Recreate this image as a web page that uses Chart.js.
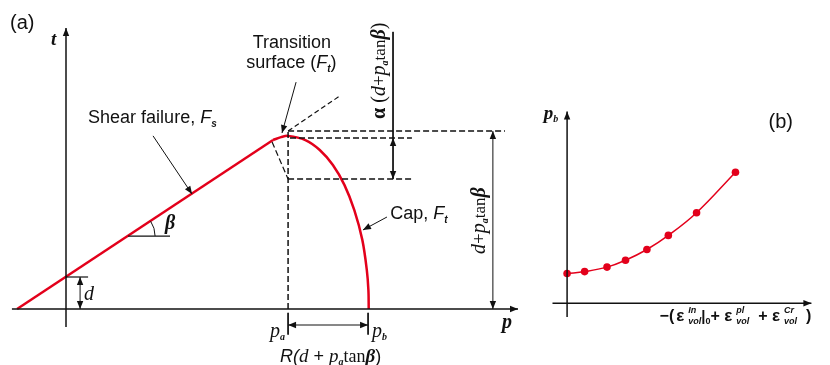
<!DOCTYPE html>
<html>
<head>
<meta charset="utf-8">
<script src="https://cdn.jsdelivr.net/npm/chart.js@4.4.0/dist/chart.umd.min.js"></script>
<style>
  html, body { margin: 0; padding: 0; background: #fff; }
  #wrap { position: relative; width: 830px; height: 365px; }
  #capChart { position: absolute; left: 0; top: 0; }
  #pbChart { position: absolute; left: 530px; top: 0; }
</style>
</head>
<body>
<div id="wrap">
  <canvas id="capChart" width="530" height="365"></canvas>
  <canvas id="pbChart" width="300" height="365"></canvas>
</div>
<script>
// (a) cap model in the p-t plane, units where d = 1
const shearP = [-1.53, 6.47];
const shearT = [0, 5.28];
const capP = [6.47, 6.72, 6.94, 7.48, 7.93, 8.34, 8.70, 9.01, 9.26, 9.40, 9.45, 9.46];
const capT = [5.28, 5.37, 5.41, 5.28, 4.97, 4.50, 3.88, 3.09, 2.16, 1.22, 0.59, 0];
const dVal = 1;
const pa = 6.94;
const pb = 9.44;
const peakT = 5.56;     // d + pa tan(beta)
const alphaTop = 5.34;
const alphaBot = 4.06;

// (b) hardening curve
const strainX = [0, 0.9, 2.05, 3.0, 4.1, 5.2, 6.65, 8.65];
const pbY = [1.52, 1.62, 1.85, 2.2, 2.75, 3.47, 4.63, 6.7];

const RED = '#e3001b';
const INK = '#111';
const SANS = '"Liberation Sans", Arial, sans-serif';
const SERIF = '"Liberation Serif", "Times New Roman", serif';

const lineDs = (xs, ys, o = {}) => ({
  data: xs.map((x, i) => ({ x, y: ys[i] })),
  pointRadius: 0,
  borderColor: o.color || INK,
  backgroundColor: o.color || INK,
  borderWidth: o.w || 1,
  borderDash: o.dash || [],
  tension: o.tension || 0,
  heads: o.heads,
  fill: false
});

const DASH = [6, 3];

function drawHead(ctx, x0, y0, x1, y1, len, color) {
  const ang = Math.atan2(y1 - y0, x1 - x0);
  const w = len * 0.4;
  ctx.save();
  ctx.fillStyle = color;
  ctx.translate(x1, y1);
  ctx.rotate(ang);
  ctx.beginPath();
  ctx.moveTo(0, 0);
  ctx.lineTo(-len, -w);
  ctx.lineTo(-len, w);
  ctx.closePath();
  ctx.fill();
  ctx.restore();
}

const arrowHeads = {
  id: 'arrowHeads',
  afterDatasetsDraw(chart) {
    const ctx = chart.ctx;
    chart.data.datasets.forEach((ds, i) => {
      if (!ds.heads) return;
      const pts = chart.getDatasetMeta(i).data;
      ds.heads.forEach(h => {
        const a = h === 'end' ? pts[pts.length - 1] : pts[0];
        const b = h === 'end' ? pts[pts.length - 2] : pts[1];
        drawHead(ctx, b.x, b.y, a.x, a.y, 8, ds.borderColor);
      });
    });
  }
};

// draws a run of text pieces (fonts, sub/superscripts), optionally rotated
function rich(ctx, x, y, parts, opt = {}) {
  ctx.save();
  ctx.translate(x, y);
  if (opt.rotate) ctx.rotate(-Math.PI / 2);
  ctx.textBaseline = 'alphabetic';
  ctx.fillStyle = INK;
  let total = 0;
  parts.forEach(p => { ctx.font = p.f || ctx.font; if (!p.stay) total += p.gap || ctx.measureText(p.s).width; });
  let cx = opt.center ? -total / 2 : 0;
  parts.forEach(p => {
    if (p.gap) { cx += p.gap; return; }
    ctx.font = p.f;
    ctx.fillText(p.s, cx, p.dy || 0);
    if (!p.stay) cx += ctx.measureText(p.s).width;
  });
  ctx.restore();
}

const capLabels = {
  id: 'capLabels',
  afterDatasetsDraw(chart) {
    const ctx = chart.ctx;
    const X = v => chart.scales.x.getPixelForValue(v);
    const Y = v => chart.scales.y.getPixelForValue(v);
    const S18 = `18px ${SANS}`;
    const I18 = `italic 18px ${SANS}`;
    const SUB = `italic bold 10px ${SANS}`;

    // beta arc
    ctx.save();
    ctx.strokeStyle = INK;
    ctx.lineWidth = 1;
    ctx.beginPath();
    ctx.arc(X(1.94), Y(2.28), 27, -Math.atan(0.662), 0);
    ctx.stroke();
    ctx.restore();

    rich(ctx, X(-1.75), Y(8.75), [{ s: '(a)', f: `20px ${SANS}` }]);
    rich(ctx, X(-0.47), Y(8.25), [{ s: 't', f: `bold italic 19px ${SERIF}` }]);
    rich(ctx, X(7.06), Y(8.16), [{ s: 'Transition', f: S18 }], { center: true });
    rich(ctx, X(5.63), Y(7.53), [{ s: 'surface (', f: S18 }, { s: 'F', f: I18 }, { s: 't', f: SUB, dy: 4 }, { s: ')', f: S18 }]);
    rich(ctx, X(0.69), Y(5.81), [{ s: 'Shear failure, ', f: S18 }, { s: 'F', f: I18 }, { s: 's', f: SUB, dy: 4 }]);
    rich(ctx, X(10.13), Y(2.81), [{ s: 'Cap, ', f: S18 }, { s: 'F', f: I18 }, { s: 't', f: SUB, dy: 4 }]);
    rich(ctx, X(0.56), Y(0.28), [{ s: 'd', f: `italic 20px ${SERIF}` }]);
    rich(ctx, X(3.09), Y(2.5), [{ s: 'β', f: `bold italic 20px ${SERIF}` }]);
    rich(ctx, X(6.375), Y(-0.875), [{ s: 'p', f: `italic 20px ${SERIF}` }, { s: 'a', f: `bold italic 10px ${SERIF}`, dy: 3 }]);
    rich(ctx, X(9.56), Y(-0.875), [{ s: 'p', f: `italic 20px ${SERIF}` }, { s: 'b', f: `bold italic 10px ${SERIF}`, dy: 3 }]);
    rich(ctx, X(6.69), Y(-1.66), [
      { s: 'R(', f: I18 }, { s: 'd', f: `italic 19px ${SERIF}` }, { s: ' + ', f: S18 },
      { s: 'p', f: `italic 19px ${SERIF}` }, { s: 'a', f: `bold italic 10px ${SERIF}`, dy: 3 },
      { s: 'tan', f: `18px ${SERIF}` }, { s: 'β', f: `bold italic 19px ${SERIF}` }, { s: ')', f: S18 }
    ]);
    rich(ctx, X(13.625), Y(-0.59), [{ s: 'p', f: `bold italic 20px ${SERIF}` }]);

    rich(ctx, X(9.97), Y(5.94), [
      { s: 'α', f: `bold 20px ${SERIF}` }, { s: ' (', f: `20px ${SERIF}` },
      { s: 'd', f: `italic 20px ${SERIF}` }, { s: '+', f: `19px ${SERIF}` },
      { s: 'p', f: `italic 20px ${SERIF}` }, { s: 'a', f: `bold italic 10px ${SERIF}`, dy: 3 },
      { s: 'tan', f: `17px ${SERIF}` }, { s: 'β', f: `bold italic 20px ${SERIF}` }, { s: ')', f: `20px ${SERIF}` }
    ], { rotate: true });
    rich(ctx, X(13.09), Y(1.72), [
      { s: 'd', f: `italic 20px ${SERIF}` }, { s: '+', f: `19px ${SERIF}` },
      { s: 'p', f: `italic 20px ${SERIF}` }, { s: 'a', f: `bold italic 10px ${SERIF}`, dy: 3 },
      { s: 'tan', f: `17px ${SERIF}` }, { s: 'β', f: `bold italic 20px ${SERIF}` }
    ], { rotate: true });
  }
};

const baseOptions = (xMin, xMax, yMin, yMax) => ({
  responsive: false,
  animation: false,
  devicePixelRatio: 1,
  events: [],
  layout: { padding: 0 },
  plugins: { legend: { display: false }, tooltip: { enabled: false } },
  scales: {
    x: { type: 'linear', display: false, min: xMin, max: xMax },
    y: { type: 'linear', display: false, min: yMin, max: yMax }
  }
});

new Chart(document.getElementById('capChart'), {
  type: 'line',
  data: {
    datasets: [
      // axes
      lineDs([-1.69, 14.125], [0, 0], { w: 1.5, heads: ['end'] }),
      lineDs([0, 0], [-0.56, 8.78], { w: 1.5, heads: ['end'] }),
      // dashed construction lines
      lineDs([pa, pa], [0, peakT], { w: 1.5, dash: DASH }),
      lineDs([pa, 13.72], [peakT, peakT], { w: 1.5, dash: DASH }),
      lineDs([7.0, 10.81], [alphaTop, alphaTop], { w: 1.5, dash: DASH }),
      lineDs([pa, 10.81], [alphaBot, alphaBot], { w: 1.5, dash: DASH }),
      lineDs([6.44, pa], [5.22, alphaBot], { w: 1.2, dash: DASH }),
      lineDs([pa, 8.56], [peakT, 6.66], { w: 1.2, dash: [5, 3] }),
      // dimensions
      lineDs([10.22, 10.22], [8.66, alphaTop], {}),
      lineDs([10.22, 10.22], [alphaTop, alphaBot], { heads: ['start', 'end'] }),
      lineDs([13.34, 13.34], [0, peakT], { heads: ['start', 'end'] }),
      lineDs([0, 0.69], [dVal, dVal], { w: 1.2 }),
      lineDs([0.44, 0.44], [0, dVal], { heads: ['start', 'end'] }),
      lineDs([1.94, 3.25], [2.28, 2.28], { w: 1.2 }),
      lineDs([pa, pb], [-0.5, -0.5], { heads: ['start', 'end'] }),
      lineDs([pa, pa], [-0.12, -0.8], {}),
      lineDs([pb, pb], [-0.12, -0.8], {}),
      // leaders
      lineDs([2.72, 3.94], [5.41, 3.59], { heads: ['end'] }),
      lineDs([7.19, 6.75], [7.09, 5.5], { heads: ['end'] }),
      lineDs([10.03, 9.28], [2.875, 2.47], { heads: ['end'] }),
      // yield surface
      lineDs(shearP, shearT, { color: RED, w: 2.5 }),
      lineDs(capP, capT, { color: RED, w: 2.5, tension: 0.35 })
    ]
  },
  options: baseOptions(-2.0625, 14.5, -1.75, 9.65625),
  plugins: [arrowHeads, capLabels]
});

const pbLabels = {
  id: 'pbLabels',
  afterDatasetsDraw(chart) {
    const ctx = chart.ctx;
    const X = v => chart.scales.x.getPixelForValue(v);
    const Y = v => chart.scales.y.getPixelForValue(v);
    const E = `bold 17px ${SANS}`;
    const P = `bold 16px ${SANS}`;
    const SM = `bold italic 9px ${SANS}`;
    rich(ctx, X(-1.2), Y(9.4), [{ s: 'p', f: `bold italic 19px ${SERIF}` }, { s: 'b', f: `bold italic 10px ${SERIF}`, dy: 3 }]);
    rich(ctx, X(10.35), Y(8.95), [{ s: '(b)', f: `20px ${SANS}` }]);
    rich(ctx, X(4.75), Y(-0.9), [
      { s: '−(', f: P }, { gap: 2 }, { s: 'ε', f: E }, { gap: 4 },
      { s: 'In', f: SM, dy: -8, stay: true }, { s: 'vol', f: SM, dy: 3 },
      { s: '|', f: `bold 15px ${SANS}` }, { s: '0', f: `bold 9px ${SANS}`, dy: 3 },
      { s: '+ ', f: P }, { s: 'ε', f: E }, { gap: 4 },
      { s: 'pl', f: SM, dy: -8, stay: true }, { s: 'vol', f: SM, dy: 3 },
      { s: '  + ', f: P }, { s: 'ε', f: E }, { gap: 4 },
      { s: 'Cr', f: SM, dy: -8, stay: true }, { s: 'vol', f: SM, dy: 3 },
      { s: '  )', f: P }
    ]);
  }
};

new Chart(document.getElementById('pbChart'), {
  type: 'line',
  data: {
    datasets: [
      lineDs([0, 0], [-0.7, 9.8], { w: 1.5, heads: ['end'] }),
      lineDs([-0.75, 12.55], [0, 0], { w: 1.5, heads: ['end'] }),
      {
        data: strainX.map((x, i) => ({ x, y: pbY[i] })),
        borderColor: RED,
        backgroundColor: RED,
        borderWidth: 1.5,
        pointRadius: 3.8,
        pointBorderWidth: 0,
        tension: 0.4,
        fill: false
      }
    ]
  },
  options: baseOptions(-1.7, 13.3, -2.95, 15.3),
  plugins: [arrowHeads, pbLabels]
});
</script>
</body>
</html>
